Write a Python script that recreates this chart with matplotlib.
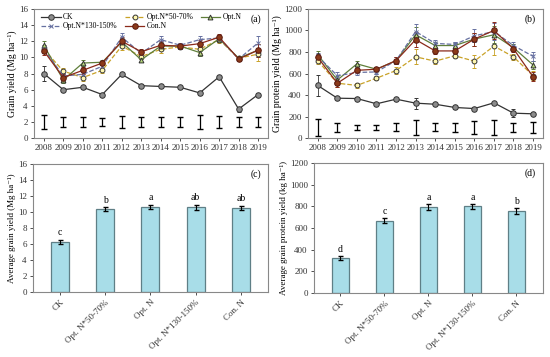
import numpy as np
import matplotlib
matplotlib.use("Agg")
import matplotlib.pyplot as plt

plt.rcParams['font.family'] = ['Liberation Serif', 'DejaVu Serif']
plt.rcParams['font.size'] = 6.5

years = [2008, 2009, 2010, 2011, 2012, 2013, 2014, 2015, 2016, 2017, 2018, 2019]

# panel (a) grain yield, Mg/ha
a_ck = [8.0, 6.0, 6.3, 5.4, 7.9, 6.5, 6.4, 6.3, 5.6, 7.6, 3.6, 5.4]
a_ck_err = [0.9, 0.2, 0.2, 0.15, 0.15, 0.2, 0.2, 0.15, 0.3, 0.15, 0.3, 0.15]
a_low = [11.0, 8.3, 7.5, 8.4, 11.4, 10.1, 11.0, 11.3, 11.0, 12.2, 9.9, 10.4]
a_opt = [11.5, 7.2, 9.3, 9.4, 11.9, 9.7, 11.4, 11.4, 10.6, 12.3, 9.9, 10.9]
a_high = [11.0, 7.7, 7.9, 8.9, 12.5, 10.5, 12.2, 11.5, 12.2, 12.4, 9.8, 11.8]
a_con = [10.8, 7.5, 8.4, 9.3, 12.0, 10.7, 11.5, 11.4, 11.7, 12.5, 9.8, 10.9]
a_err = [0.5, 0.4, 0.4, 0.3, 0.5, 0.3, 0.5, 0.3, 0.4, 0.4, 0.3, 0.8]
a_lsd = [0.9, 0.65, 0.6, 0.55, 0.75, 0.65, 0.65, 0.6, 0.9, 0.8, 0.6, 0.6]

# panel (b) grain protein yield
b_ck = [489, 371, 368, 319, 362, 325, 315, 285, 275, 328, 232, 226]
b_ck_err = [95, 15, 12, 12, 15, 50, 12, 12, 12, 12, 40, 15]
b_low = [718, 510, 490, 557, 628, 755, 715, 765, 715, 855, 755, 580]
b_opt = [775, 540, 690, 640, 720, 960, 860, 860, 920, 960, 840, 680]
b_high = [760, 580, 610, 615, 720, 990, 880, 870, 950, 990, 860, 760]
b_con = [750, 510, 630, 640, 720, 915, 810, 810, 920, 1000, 830, 570]
b_err = [30, 35, 25, 20, 30, 70, 30, 25, 60, 80, 30, 40]
b_lsd_mid = 100
b_lsd = [78, 40, 25, 25, 38, 70, 38, 40, 60, 68, 45, 48]

# panels (c) and (d) averages
treatments = ['CK', 'Opt. N*50-70%', 'Opt. N', 'Opt. N*130-150%', 'Con. N']
c_mean = [6.3, 10.35, 10.65, 10.6, 10.55]
c_err = [0.25, 0.25, 0.25, 0.3, 0.25]
c_letters = ['c', 'b', 'a', 'ab', 'ab']
d_mean = [325, 670, 795, 800, 760]
d_err = [18, 22, 25, 25, 25]
d_letters = ['d', 'c', 'a', 'a', 'b']

fig = plt.figure(figsize=(5.5, 3.57), dpi=100)
ax_a = fig.add_axes([0.062, 0.613, 0.425, 0.362])
ax_b = fig.add_axes([0.56, 0.613, 0.427, 0.362])
ax_c = fig.add_axes([0.06, 0.182, 0.427, 0.359])
ax_d = fig.add_axes([0.571, 0.179, 0.416, 0.364])

styles = [
    ('CK', dict(color='#333333', ls='-', marker='o', mfc='#8c8c8c', mec='#333333', ms=4)),
    ('Opt.N*50-70%', dict(color='#c9a227', ls='--', marker='o', mfc='#fff8b0', mec='#333333', ms=3.5)),
    ('Opt.N', dict(color='#5f7f3a', ls='-', marker='^', mfc='#b5d67a', mec='#333333', ms=3.5)),
    ('Opt.N*130-150%', dict(color='#6670a0', ls='--', marker='x', mfc='#8890c0', mec='#6670a0', ms=3.5)),
    ('Con.N', dict(color='#8b2a1a', ls='-', marker='o', mfc='#8b3a1a', mec='#5a1a10', ms=4)),
]


def style_ax(ax):
    for s in ax.spines.values():
        s.set_color('#888888')
        s.set_linewidth(0.8)
    ax.tick_params(length=2.5, width=0.6, pad=2, colors='#333333', labelsize=6.5)


handles = {}
for ax, series, errs, ck_err, lsd_mid, lsd, ylim, yt, lab, tag in [
    (ax_a, [a_ck, a_low, a_opt, a_high, a_con], a_err, a_ck_err, 2, a_lsd, 16, np.arange(0, 17, 2),
     'Grain yield (Mg ha⁻¹)', '(a)'),
    (ax_b, [b_ck, b_low, b_opt, b_high, b_con], b_err, b_ck_err, b_lsd_mid, b_lsd, 1200, np.arange(0, 1201, 200),
     'Grain protein yield (Mg ha⁻¹)', '(b)'),
]:
    x = np.arange(len(years))
    for i, ((name, st), y) in enumerate(zip(styles, series)):
        e = ck_err if i == 0 else errs
        h = ax.errorbar(x, y, yerr=e, label=name, lw=0.9, capsize=1.5, elinewidth=0.6,
                        ecolor=st['color'], mew=0.7, **st)
        handles[name] = h[0]
    ax.errorbar(x, [lsd_mid] * len(x), yerr=lsd, fmt='none', ecolor='black',
                capsize=2, elinewidth=0.9)
    ax.set_xlim(-0.5, len(x) - 0.5)
    ax.set_ylim(0, ylim)
    ax.set_yticks(yt)
    ax.set_xticks(x)
    ax.set_xticklabels(years)
    ax.set_ylabel(lab, fontsize=7, labelpad=1)
    ax.text(0.97, 0.92, tag, transform=ax.transAxes, ha='right', va='center', fontsize=7)
    style_ax(ax)

order = ['CK', 'Opt.N*130-150%', 'Opt.N*50-70%', 'Con.N', 'Opt.N']
ax_a.legend([handles[k] for k in order], order, ncol=3, loc='upper left',
            bbox_to_anchor=(0.0, 1.02), frameon=False, fontsize=5.5,
            handlelength=2.6, columnspacing=0.9, handletextpad=0.3, labelspacing=0.15)

for ax, mean, err, letters, ylim, yt, lab, tag, off in [
    (ax_c, c_mean, c_err, c_letters, 16, np.arange(0, 17, 2), 'Average grain yield (Mg ha⁻¹)', '(c)', 0.3),
    (ax_d, d_mean, d_err, d_letters, 1200, np.arange(0, 1201, 200), 'Average grain protein yield (kg ha⁻¹)', '(d)', 20),
]:
    x = np.arange(len(treatments))
    ax.bar(x, mean, width=0.4, color='#a8dde8', edgecolor='#5f7f86', linewidth=0.9)
    ax.errorbar(x, mean, yerr=err, fmt='none', ecolor='black', capsize=1.8, elinewidth=0.8)
    for xi, m, e, l in zip(x, mean, err, letters):
        ax.text(xi, m + e + off, l, ha='center', va='bottom', fontsize=7)
    ax.set_xlim(-0.6, len(x) - 0.4)
    ax.set_ylim(0, ylim)
    ax.set_yticks(yt)
    ax.set_xticks(x)
    ax.set_xticklabels(treatments, rotation=45, ha='right', rotation_mode='anchor', fontsize=7)
    ax.set_ylabel(lab, fontsize=6.5, labelpad=1)
    ax.text(0.97, 0.92, tag, transform=ax.transAxes, ha='right', va='center', fontsize=7)
    style_ax(ax)

fig.savefig('out.png', dpi=100)
